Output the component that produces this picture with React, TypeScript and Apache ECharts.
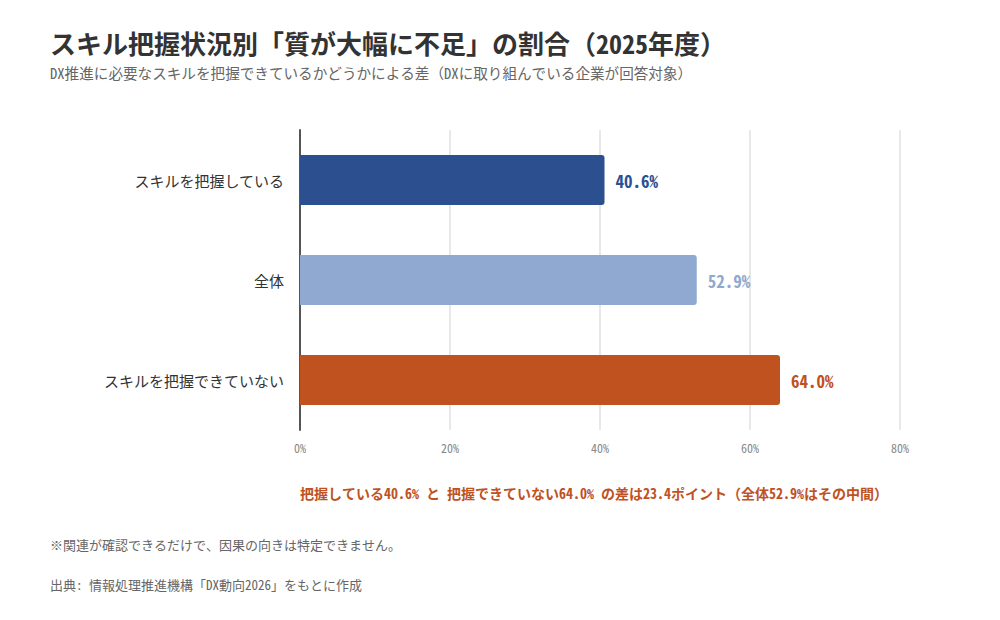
import React, { useEffect, useRef } from "react";
import * as echarts from "echarts";

const categories = ["スキルを把握している", "全体", "スキルを把握できていない"];
const values = [40.6, 52.9, 64.0];
const barColors = ["#2C508F", "#8FA9D0", "#C0521F"];
const xTicks = [0, 20, 40, 60, 80];

const titleText = "スキル把握状況別「質が大幅に不足」の割合（2025年度）";
const subtitleText = "DX推進に必要なスキルを把握できているかどうかによる差（DXに取り組んでいる企業が回答対象）";
const noteText = "把握している40.6% と 把握できていない64.0% の差は23.4ポイント（全体52.9%はその中間）";
const footnote1 = "※関連が確認できるだけで、因果の向きは特定できません。";
const footnote2 = "出典: 情報処理推進機構「DX動向2026」をもとに作成";

const MONO = "Noto Sans Mono CJK JP, Noto Sans CJK JP, monospace";
const SANS = "Noto Sans CJK JP, sans-serif";

export default function App() {
  const ref = useRef<HTMLDivElement>(null);
  useEffect(() => {
    document.body.style.margin = "0";
    const chart = echarts.init(ref.current!, null, { renderer: "svg" });
    chart.setOption({
      animation: false,
      backgroundColor: "#ffffff",
      grid: { left: 300, right: 100, top: 130, bottom: 190, containLabel: false },
      xAxis: {
        type: "value",
        min: 0,
        max: 80,
        interval: 20,
        axisLine: { show: false },
        axisTick: { show: false },
        splitLine: { show: true, lineStyle: { color: "#e8e8e8", width: 2 } },
        axisLabel: {
          formatter: (v: number) => (xTicks.includes(v) ? `${v}%` : ""),
          color: "#888888",
          fontFamily: MONO,
          fontSize: 12,
          margin: 11,
        },
      },
      yAxis: {
        type: "category",
        data: categories,
        inverse: true,
        axisLine: { show: true, lineStyle: { color: "#555555", width: 2 } },
        axisTick: { show: false },
        axisLabel: { color: "#333333", fontFamily: SANS, fontSize: 15, margin: 16 },
      },
      series: [
        {
          type: "bar",
          barWidth: "50%",
          data: values.map((v, i) => ({
            value: v,
            itemStyle: { color: barColors[i], borderRadius: [0, 3, 3, 0] },
            label: { color: barColors[i] },
          })),
          label: {
            show: true,
            position: "right",
            distance: 11,
            formatter: (p: any) => `${p.value.toFixed(1)}%`,
            fontFamily: MONO,
            fontWeight: "bold",
            fontSize: 17,
          },
        },
      ],
      graphic: [
        {
          type: "text",
          left: 50,
          top: 29,
          style: { text: titleText, fontFamily: MONO, fontWeight: "bold", fontSize: 26, fill: "#333333" },
        },
        {
          type: "text",
          left: 50,
          top: 65,
          style: { text: subtitleText, fontFamily: MONO, fontSize: 14.6, fill: "#666666" },
        },
        {
          type: "text",
          left: 300,
          top: 486,
          style: { text: noteText, fontFamily: MONO, fontWeight: "bold", fontSize: 14, fill: "#C0521F" },
        },
        {
          type: "text",
          left: 50,
          top: 538,
          style: { text: footnote1, fontFamily: MONO, fontSize: 13, fill: "#666666" },
        },
        {
          type: "text",
          left: 50,
          top: 578,
          style: { text: footnote2, fontFamily: MONO, fontSize: 13, fill: "#666666" },
        },
      ],
    });
    return () => chart.dispose();
  }, []);
  return <div ref={ref} style={{ width: 1000, height: 620 }} />;
}
